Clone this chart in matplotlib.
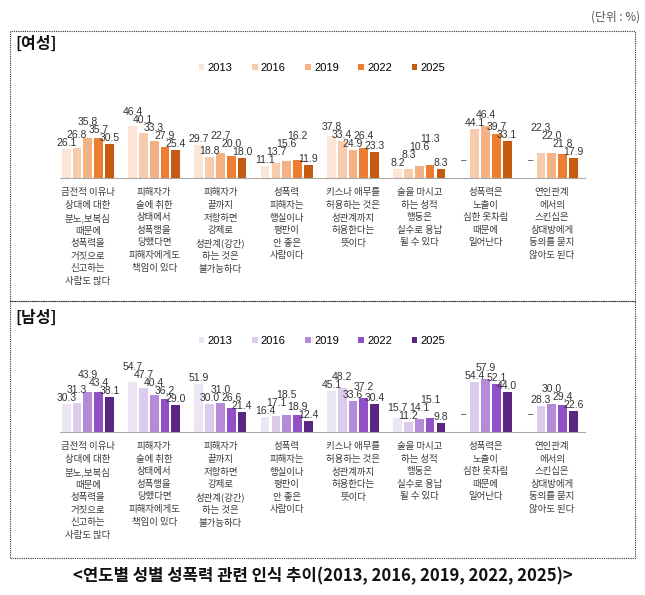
import numpy as np
import matplotlib.pyplot as plt
from matplotlib.patches import Rectangle

plt.rcParams['font.family'] = ['Noto Sans CJK KR', 'DejaVu Sans']

# 데이터 (단위: %)
years = ['2013', '2016', '2019', '2022', '2025']
categories = [
    '금전적 이유나\n상대에 대한\n분노,보복심\n때문에\n성폭력을\n거짓으로\n신고하는\n사람도 많다',
    '피해자가\n술에 취한\n상태에서\n성폭행을\n당했다면\n피해자에게도\n책임이 있다',
    '피해자가\n끝까지\n저항하면\n강제로\n성관계(강간)\n하는 것은\n불가능하다',
    '성폭력\n피해자는\n행실이나\n평판이\n안 좋은\n사람이다',
    '키스나 애무를\n허용하는 것은\n성관계까지\n허용한다는\n뜻이다',
    '술을 마시고\n하는 성적\n행동은\n실수로 용납\n될 수 있다',
    '성폭력은\n노출이\n심한 옷차림\n때문에\n일어난다',
    '연인관계\n에서의\n스킨십은\n상대방에게\n동의를 묻지\n않아도 된다',
]
nan = np.nan
female = {
    '2013': [26.1, 46.4, 29.7, 11.1, 37.8, 8.2, nan, nan],
    '2016': [26.8, 40.1, 18.8, 13.7, 33.4, 8.3, 44.1, 22.3],
    '2019': [35.8, 33.3, 22.7, 15.6, 24.9, 10.6, 46.4, 22.0],
    '2022': [35.7, 27.9, 20.0, 16.2, 26.4, 11.3, 39.7, 21.8],
    '2025': [30.5, 25.4, 18.0, 11.9, 23.3, 8.3, 33.1, 17.9],
}
male = {
    '2013': [30.3, 54.7, 51.9, 16.4, 45.1, 15.7, nan, nan],
    '2016': [31.3, 47.7, 30.0, 17.1, 48.2, 11.2, 54.4, 28.3],
    '2019': [43.9, 40.4, 31.0, 18.5, 33.6, 14.1, 57.9, 30.0],
    '2022': [43.4, 36.2, 26.6, 18.9, 37.2, 15.1, 52.1, 29.4],
    '2025': [38.1, 29.0, 21.4, 12.4, 30.4, 9.8, 44.0, 22.6],
}
female_colors = ['#fbe5d6', '#f8cbad', '#f4b183', '#ed7d31', '#c55a11']
male_colors = ['#ece5f3', '#dccbec', '#b58ad9', '#9150c8', '#5a2681']

W, H = 645, 595
fig = plt.figure(figsize=(W / 100, H / 100), dpi=100)


def fx(px):
    return px / W


def fy(py):
    return 1 - py / H


def stagger(vals, scale, pad=6.0, gap=8.0):
    # 라벨이 겹치지 않도록 키 큰 막대 쪽 라벨을 위로 올림 (픽셀 단위)
    ys = [v * scale + pad if not np.isnan(v) else None for v in vals]
    for _ in range(8):
        for j in range(len(ys) - 1):
            a, b = ys[j], ys[j + 1]
            if a is None or b is None or abs(a - b) >= gap:
                continue
            if vals[j] >= vals[j + 1]:
                ys[j] = b + gap
            else:
                ys[j + 1] = a + gap
    return ys


def draw_panel(base_y, data, colors, ymax, scale, title, title_y, legend_y):
    height = ymax * scale
    ax = fig.add_axes([fx(60), fy(base_y), fx(585) - fx(60), height / H])
    x = np.arange(len(categories))
    step, width = 0.163, 0.132
    for k, yr in enumerate(years):
        vals = np.array(data[yr], dtype=float)
        ax.bar(x + (k - 2) * step, np.nan_to_num(vals), width, color=colors[k], label=yr)
    for i in range(len(categories)):
        vals = [data[yr][i] for yr in years]
        ys = stagger(vals, scale)
        for k, v in enumerate(vals):
            p = i + (k - 2) * step
            if np.isnan(v):
                ax.annotate('–', (p, 0), xytext=(0, 9), textcoords='offset points',
                            ha='center', va='bottom', fontsize=7, color='#444',
                            family=['Liberation Sans'])
            else:
                ax.annotate(f'{v:.1f}', (p, 0), xytext=(0, ys[k] * 0.72),
                            textcoords='offset points', ha='center', va='center',
                            fontsize=7.5, color='#333',
                            family=['Liberation Sans Narrow', 'Liberation Sans'])
    for i, c in enumerate(categories):
        ax.annotate(c, (i, 0), xytext=(0, -7.5), textcoords='offset points',
                    ha='center', va='top', fontsize=6.8, color='#3a3a3a',
                    linespacing=1.5)
    ax.set_xlim(-0.42, 7.5)
    ax.set_ylim(0, ymax)
    for s in ['top', 'right', 'left']:
        ax.spines[s].set_visible(False)
    ax.spines['bottom'].set_color('#aaaaaa')
    ax.spines['bottom'].set_linewidth(0.8)
    ax.set_xticks([])
    ax.set_yticks([])
    ax.patch.set_alpha(0)
    handles, labels = ax.get_legend_handles_labels()
    fig.legend(handles, labels, loc='center', bbox_to_anchor=(fx(322), fy(legend_y)),
               ncol=5, frameon=False, handlelength=0.5, handleheight=0.5,
               handletextpad=0.3, columnspacing=1.75,
               prop={'family': ['Liberation Sans'], 'size': 8})
    fig.text(fx(15), fy(title_y), title, fontsize=11.5, fontweight='bold',
             ha='left', va='center', color='#111')
    return ax


draw_panel(178, female, female_colors, 50, 1.12, '[여성]', 44, 68)
draw_panel(432, male, male_colors, 60, 0.92, '[남성]', 318, 341)

# 점선 테두리
for y0, y1 in [(31, 301), (301, 558)]:
    fig.patches.append(Rectangle((fx(10), fy(y1)), fx(635) - fx(10), (y1 - y0) / H,
                                 transform=fig.transFigure, fill=False,
                                 linestyle=(0, (1, 1)), linewidth=0.8, edgecolor='#333'))

fig.text(fx(640), fy(17), '(단위 : %)', fontsize=8.5, color='#555', ha='right', va='center')
fig.text(fx(323), fy(576), '<연도별 성별 성폭력 관련 인식 추이(2013, 2016, 2019, 2022, 2025)>',
         fontsize=12, fontweight='bold', ha='center', va='center', color='#111')

fig.savefig('out.png', dpi=100)
